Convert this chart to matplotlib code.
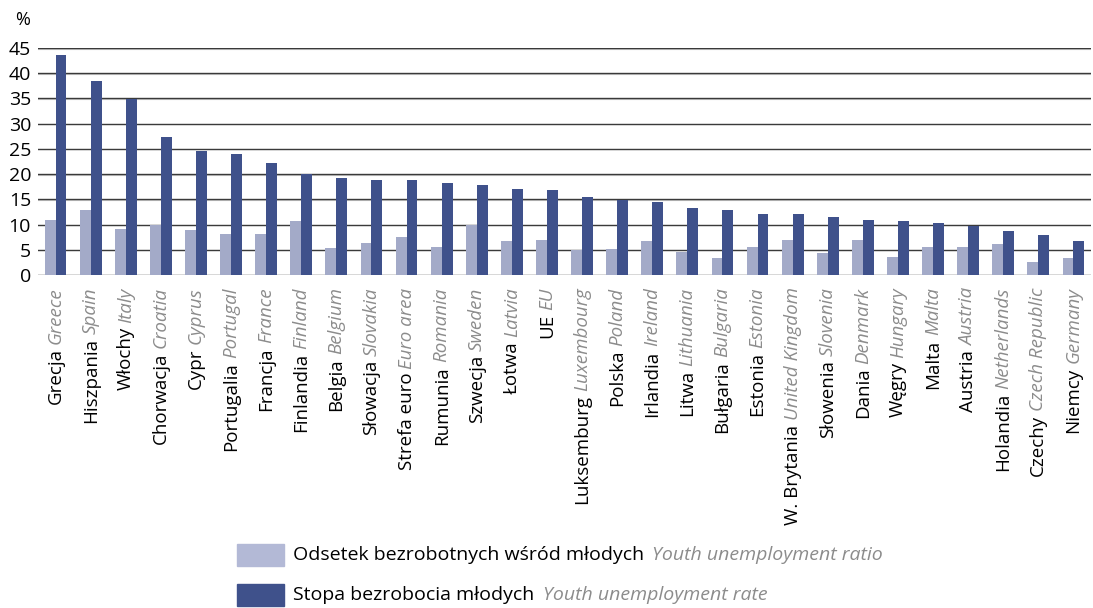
import matplotlib
matplotlib.use("Agg")
import matplotlib.pyplot as plt
from matplotlib.patches import Rectangle

plt.rcParams['font.family'] = ['Open Sans', 'DejaVu Sans']

labels_pl = ["Grecja ", "Hiszpania", "Włochy", "Chorwacja", "Cypr", "Portugalia", "Francja",
             "Finlandia", "Belgia", "Słowacja", "Strefa euro", "Rumunia", "Szwecja", "Łotwa",
             "UE", "Luksemburg", "Polska", "Irlandia", "Litwa", "Bułgaria", "Estonia",
             "W. Brytania", "Słowenia", "Dania", "Węgry", "Malta", "Austria", "Holandia",
             "Czechy", "Niemcy"]
labels_en = ["Greece", "Spain", "Italy", "Croatia", "Cyprus", "Portugal", "France",
             "Finland", "Belgium", "Slovakia", "Euro area", "Romania", "Sweden", "Latvia",
             "EU", "Luxembourg", "Poland", "Ireland", "Lithuania", "Bulgaria", "Estonia",
             "United Kingdom", "Slovenia", "Denmark", "Hungary", "Malta", "Austria",
             "Netherlands", "Czech Republic", "Germany"]
ratio = [11.0, 12.9, 9.2, 10.0, 9.0, 8.2, 8.2, 10.8, 5.4, 6.4, 7.6, 5.6, 10.0, 6.8,
         7.0, 5.0, 5.2, 6.8, 4.6, 3.4, 5.6, 7.0, 4.4, 7.0, 3.6, 5.6, 5.6, 6.2, 2.6, 3.4]
rate = [43.7, 38.5, 34.8, 27.4, 24.6, 23.9, 22.3, 20.1, 19.3, 18.9, 18.9, 18.3, 17.9, 17.1,
        16.9, 15.5, 14.9, 14.5, 13.3, 12.9, 12.1, 12.1, 11.4, 11.0, 10.8, 10.4, 9.8, 8.8,
        8.0, 6.8]
yticks = [0, 5, 10, 15, 20, 25, 30, 35, 40, 45]
legend_pl = ["Odsetek bezrobotnych wśród młodych", "Stopa bezrobocia młodych"]
legend_en = ["Youth unemployment ratio", "Youth unemployment rate"]

c_light = "#A3AAC8"
c_dark = "#3F518B"
c_light_leg = "#B3B9D6"
gray_txt = "#8C8C8C"

W, H = 1093, 608
fig = plt.figure(figsize=(W / 100, H / 100), dpi=100)
ax = fig.add_axes([38 / W, 1 - 275 / H, (1091 - 38) / W, (275 - 48) / H])

x = list(range(len(rate)))
bw = 0.31
ax.bar([i - bw / 2 for i in x], ratio, width=bw, color=c_light, zorder=3)
ax.bar([i + bw / 2 for i in x], rate, width=bw, color=c_dark, zorder=3)

ax.set_xlim(-0.5, len(x) - 0.5)
ax.set_ylim(0, 45)
ax.set_yticks(yticks)
ax.set_yticklabels([str(t) for t in yticks], fontsize=14)
ax.tick_params(axis='y', length=0, pad=5)
ax.set_xticks([])
for t in yticks:
    ax.axhline(t, color="#3a3a3a", lw=1.0, zorder=2)
    ax.axhline(t - 0.12, color="#c8c8c8", lw=0.8, zorder=1)
for s in ax.spines.values():
    s.set_visible(False)

fig.text(15 / W, 1 - 20 / H, "%", fontsize=13, ha='left', va='center')

for i in x:
    en = ax.annotate(labels_en[i], xy=(i, 0), xycoords='data', xytext=(0, -9),
                     textcoords='offset points', rotation=90, ha='center', va='top',
                     fontsize=13.5, style='italic', color=gray_txt)
    ax.annotate(labels_pl[i].strip(), xy=(0.5, 0), xycoords=en, xytext=(0, -3),
                textcoords='offset points', rotation=90, ha='center', va='top',
                fontsize=13.5, color='black')

# legend
for k, (ys, col) in enumerate([(544, c_light_leg), (584, c_dark)]):
    fig.patches.append(Rectangle((237 / W, 1 - (ys + 22) / H), 47 / W, 22 / H,
                                 transform=fig.transFigure, color=col))
    t = fig.text(293 / W, 1 - (ys + 11) / H, legend_pl[k], fontsize=14,
                 ha='left', va='center')
    ax.annotate(legend_en[k], xy=(1, 0.5), xycoords=t, xytext=(6, 0),
                textcoords='offset points', ha='left', va='center', fontsize=14,
                style='italic', color=gray_txt)

fig.savefig("out.png", dpi=100)
